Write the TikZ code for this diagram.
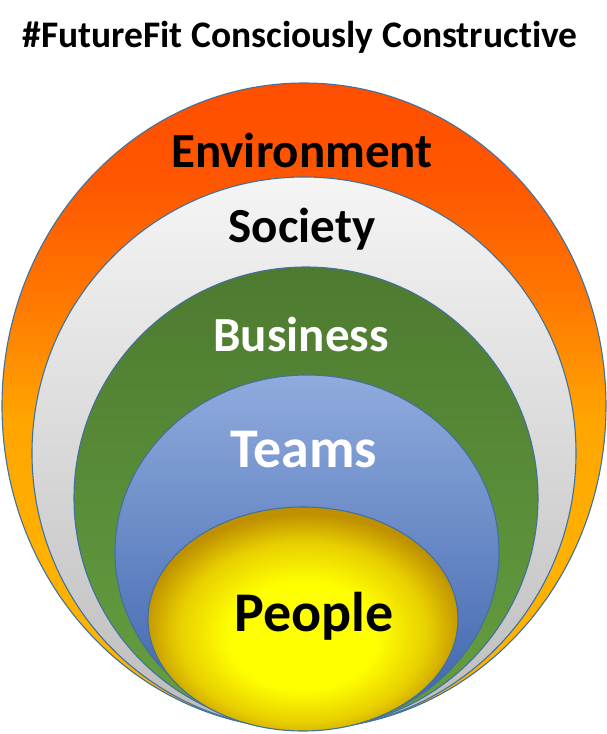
\documentclass[tikz,border=0pt]{standalone}
\usepackage{fontspec}
\setmainfont{Carlito}[Ligatures=NoCommon]
\definecolor{oc1}{HTML}{FF4E00}
\definecolor{oc2}{HTML}{FF5600}
\definecolor{oc3}{HTML}{FF7800}
\definecolor{oc4}{HTML}{FFA500}
\definecolor{oc5}{HTML}{FFB000}
\definecolor{oc6}{HTML}{FFB400}
\definecolor{gc1}{HTML}{F5F5F5}
\definecolor{gc2}{HTML}{CACACA}
\definecolor{gc3}{HTML}{BCBCBC}
\definecolor{grn1}{HTML}{4D7A30}
\definecolor{grn2}{HTML}{66A040}
\definecolor{bl1}{HTML}{90ABDD}
\definecolor{bl2}{HTML}{6A8FD2}
\definecolor{bl3}{HTML}{3B62AC}
\definecolor{ye1}{HTML}{FFFF00}
\definecolor{ye2}{HTML}{E8D000}
\definecolor{ye3}{HTML}{BF9000}
\definecolor{edge}{RGB}{65,113,156}
\pgfdeclareverticalshading{envshade}{100bp}{color(0bp)=(oc6); color(25bp)=(oc6); color(38.9bp)=(oc5); color(49bp)=(oc4); color(58.2bp)=(oc3); color(67.5bp)=(oc2); color(75bp)=(oc1); color(100bp)=(oc1)}
\pgfdeclareradialshading{yelshade}{\pgfpoint{0bp}{-5bp}}{color(0bp)=(ye1); color(12bp)=(ye1); color(20bp)=(ye2); color(26bp)=(ye3); color(50bp)=(ye3)}
\tikzset{
  ring/.style={draw=edge, line width=1.1pt},
  lbl/.style={anchor=base, inner sep=0pt, font=\fontsize{49}{49}\selectfont\bfseries},
  biglbl/.style={anchor=base, inner sep=0pt, font=\fontsize{56}{56}\selectfont\bfseries},
}
\begin{document}
\begin{tikzpicture}[x=1pt,y=-1pt]
\useasboundingbox (0,0) rectangle (606,734);
\path[ring, shading=envshade] (304,406) ellipse [x radius=302pt, y radius=323pt];
\path[ring, top color=gc1, middle color=gc2, bottom color=gc3] (304,453) ellipse [x radius=272pt, y radius=276pt];
\path[ring, top color=grn1, bottom color=grn2] (306,498) ellipse [x radius=232pt, y radius=231pt];
\path[ring, top color=bl1, middle color=bl2, bottom color=bl3] (307,552) ellipse [x radius=192pt, y radius=177pt];
\path[ring, shading=yelshade] (303,619) ellipse [x radius=155pt, y radius=112pt];
\node[anchor=base, inner sep=0pt, font=\fontsize{37.5}{37.5}\selectfont\bfseries] (title) at (300,47) {\#FutureFit Consciously Constructive};
\node[lbl, text=black] (env) at (302,167) {Environment};
\node[lbl, text=black] (soc) at (302,242) {Society};
\node[lbl, text=white] (bus) at (301,351) {Business};
\node[biglbl, text=white] (teams) at (304,467) {Teams};
\node[biglbl, text=black] (people) at (314,631) {People};
\end{tikzpicture}
\end{document}
